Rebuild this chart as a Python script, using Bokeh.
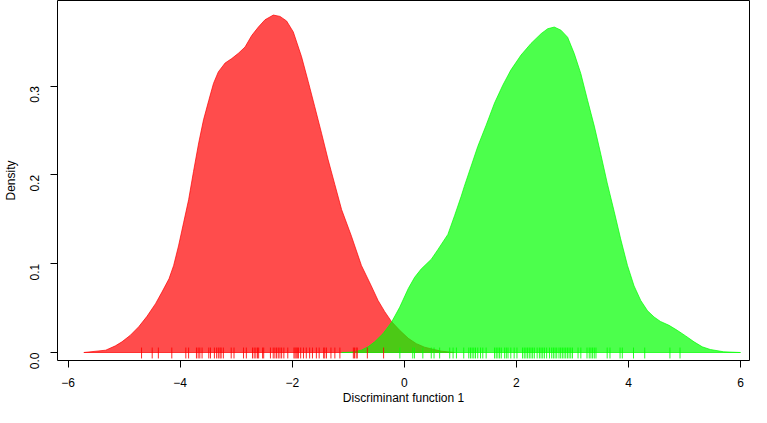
import math
from bokeh.plotting import figure
from bokeh.models import FixedTicker, Range1d, CustomJSTickFormatter
from bokeh.embed import file_html
from bokeh.resources import INLINE

# Density curve of group 1 (red)
red_x = [-5.72, -5.33, -5.157, -5.04, -4.89, -4.74, -4.593, -4.44, -4.326, -4.20, -4.118, -4.03,
         -3.94, -3.85, -3.762, -3.67, -3.584, -3.49, -3.406, -3.32, -3.199, -3.08, -2.961, -2.843,
         -2.724, -2.605, -2.487, -2.338, -2.219, -2.101, -1.982, -1.834, -1.715, -1.60, -1.478,
         -1.36, -1.24, -1.12, -0.944, -0.766, -0.59, -0.469, -0.35, -0.231, -0.083, 0.07, 0.214,
         0.36, 0.51, 0.66, 0.89]
red_y = [0.0, 0.0026, 0.0075, 0.012, 0.0194, 0.029, 0.0407, 0.055, 0.068, 0.083, 0.0978, 0.120,
         0.146, 0.172, 0.204, 0.236, 0.262, 0.284, 0.303, 0.316, 0.326, 0.331, 0.337, 0.344,
         0.357, 0.3665, 0.3747, 0.380, 0.3785, 0.3733, 0.361, 0.333, 0.305, 0.277, 0.247,
         0.217, 0.189, 0.161, 0.131, 0.098, 0.075, 0.0586, 0.046, 0.035, 0.025, 0.016, 0.010,
         0.006, 0.0037, 0.0015, 0.0]

# Density curve of group 2 (green)
green_x = [-1.12, -0.944, -0.77, -0.647, -0.53, -0.38, -0.23, -0.083, 0.07, 0.184, 0.30, 0.481,
           0.60, 0.777, 0.896, 1.015, 1.07, 1.31, 1.46, 1.61, 1.757, 1.90, 2.083, 2.26, 2.44,
           2.558, 2.676, 2.795, 2.914, 3.032, 3.15, 3.27, 3.39, 3.507, 3.62, 3.744, 3.86, 3.982,
           4.10, 4.219, 4.34, 4.457, 4.57, 4.724, 4.87, 5.02, 5.17, 5.317, 5.46, 5.70, 6.0]
green_y = [0.0, 0.0004, 0.0026, 0.0064, 0.012, 0.0213, 0.034, 0.051, 0.072, 0.0847, 0.094, 0.105,
           0.116, 0.133, 0.154, 0.176, 0.187, 0.232, 0.256, 0.281, 0.301, 0.318, 0.335, 0.348, 0.359,
           0.3646, 0.3665, 0.363, 0.355, 0.3367, 0.314, 0.284, 0.255, 0.223, 0.191, 0.159, 0.128, 0.098,
           0.075, 0.0586, 0.047, 0.040, 0.035, 0.0306, 0.025, 0.0187, 0.012, 0.0064, 0.0034, 0.0008, 0.0]

# Rug values (discriminant scores)
red_rug = [-4.69, -4.50, -4.39, -4.15, -3.90, -3.85, -3.71, -3.68, -3.65, -3.61, -3.49, -3.46,
           -3.39, -3.35, -3.32, -3.29, -3.27, -3.23, -3.09, -3.04, -2.87, -2.82, -2.71, -2.68,
           -2.65, -2.62, -2.60, -2.53, -2.51, -2.39, -2.34, -2.31, -2.28, -2.25, -2.22, -2.19,
           -2.15, -2.08, -1.97, -1.95, -1.93, -1.91, -1.89, -1.85, -1.80, -1.75, -1.69, -1.64,
           -1.57, -1.52, -1.44, -1.42, -1.39, -1.31, -1.24, -1.15, -0.91, -0.89, -0.86, -0.84,
           -0.66, -0.37]
green_rug = [-0.08, 0.15, 0.18, 0.33, 0.48, 0.53, 0.63, 0.81, 0.87, 0.93, 1.06, 1.15, 1.18, 1.21,
             1.24, 1.27, 1.31, 1.36, 1.40, 1.46, 1.61, 1.64, 1.67, 1.70, 1.73, 1.79, 1.82, 1.85,
             1.90, 1.96, 2.01, 2.11, 2.14, 2.17, 2.20, 2.23, 2.26, 2.29, 2.32, 2.37, 2.41, 2.44,
             2.47, 2.50, 2.54, 2.59, 2.63, 2.66, 2.69, 2.72, 2.76, 2.79, 2.82, 2.85, 2.88, 2.91,
             2.94, 2.97, 3.00, 3.10, 3.15, 3.26, 3.30, 3.33, 3.36, 3.39, 3.42, 3.62, 3.67, 3.85,
             3.89, 4.09, 4.29, 4.74, 4.92]

x_ticks = [-6, -4, -2, 0, 2, 4, 6]
y_ticks = [0.0, 0.1, 0.2, 0.3]

FONT = "Liberation Sans"

p = figure(width=751, height=407, output_backend="svg", toolbar_location=None,
           x_range=Range1d(-6.19, 6.16), y_range=Range1d(-0.009, 0.3964),
           min_border_left=55, min_border_right=2, min_border_top=0, min_border_bottom=45)
p.background_fill_color = "white"
p.border_fill_color = "white"
p.outline_line_color = "black"
p.outline_line_width = 1
p.xgrid.visible = False
p.ygrid.visible = False

p.patch(red_x, red_y, fill_color="#FF0000", fill_alpha=0.7, line_color="#FF0000", line_alpha=0.7, line_width=1)
p.patch(green_x, green_y, fill_color="#00FF00", fill_alpha=0.7, line_color="#00FF00", line_alpha=0.7, line_width=1)

r0 = [-0.0067] * len(red_rug)
r1 = [0.0056] * len(red_rug)
p.segment(x0=red_rug, y0=r0, x1=red_rug, y1=r1, line_color="#FF0000", line_alpha=0.85, line_width=1)
g0 = [-0.0067] * len(green_rug)
g1 = [0.0056] * len(green_rug)
p.segment(x0=green_rug, y0=g0, x1=green_rug, y1=g1, line_color="#00FF00", line_alpha=0.85, line_width=1)

for ax in (p.xaxis[0], p.yaxis[0]):
    ax.axis_line_color = None
    ax.major_tick_line_color = "black"
    ax.major_tick_out = 7
    ax.major_tick_in = 0
    ax.minor_tick_line_color = None
    ax.major_label_text_font = FONT
    ax.major_label_text_font_size = "12px"
    ax.major_label_text_color = "black"
    ax.axis_label_text_font = FONT
    ax.axis_label_text_font_size = "12px"
    ax.axis_label_text_font_style = "normal"
    ax.axis_label_text_color = "black"

p.xaxis.ticker = FixedTicker(ticks=x_ticks)
p.yaxis.ticker = FixedTicker(ticks=y_ticks)
p.yaxis.formatter = CustomJSTickFormatter(code="return tick.toFixed(1);")
p.xaxis.major_label_standoff = 10
p.yaxis.major_label_standoff = 16
p.yaxis.major_label_orientation = math.pi / 2
p.xaxis.axis_label = "Discriminant function 1"
p.yaxis.axis_label = "Density"
p.xaxis.axis_label_standoff = 1
p.yaxis.axis_label_standoff = 5

open("out.html", "w").write(file_html(p, INLINE))
